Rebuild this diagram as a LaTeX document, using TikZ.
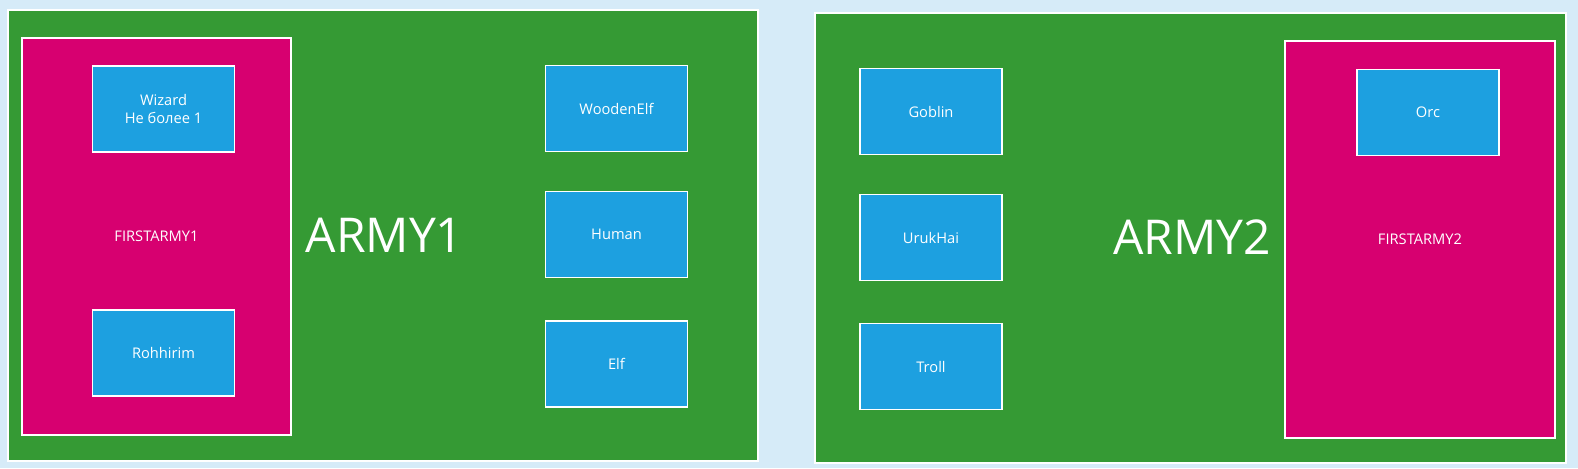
\documentclass[tikz,border=0pt]{standalone}
\usepackage{fontspec}
\setmainfont{Open Sans}
\definecolor{bgblue}{RGB}{214,235,248}
\definecolor{armygreen}{RGB}{53,154,52}
\definecolor{firstmag}{RGB}{215,0,112}
\definecolor{unitblue}{RGB}{29,160,224}
\tikzset{
  armybox/.style={draw=white, line width=1pt, fill=armygreen, rectangle, inner sep=0pt},
  firstbox/.style={draw=white, line width=1pt, fill=firstmag, rectangle, inner sep=0pt, text=white, font=\fontsize{11}{13}\selectfont},
  unitbox/.style={draw=white, line width=1pt, fill=unitblue, rectangle, inner sep=0pt, text=white, align=center, font=\fontsize{11}{14}\selectfont},
  bigtitle/.style={text=white, inner sep=0pt, font=\fontsize{36}{40}\selectfont}
}
\begin{document}
\begin{tikzpicture}[x=0.75pt,y=-0.75pt]
\path[fill=bgblue, use as bounding box] (0,0) rectangle (1578,468);
% armies
\node[armybox, minimum width=750*0.75pt, minimum height=451*0.75pt] (army1) at (383,235.5) {};
\node[armybox, minimum width=751*0.75pt, minimum height=450*0.75pt] (army2) at (1190.5,238) {};
% first armies
\node[firstbox, minimum width=269*0.75pt, minimum height=397*0.75pt] (first1) at (156.5,236.5) {FIRSTARMY1};
\node[firstbox, minimum width=270*0.75pt, minimum height=397*0.75pt] (first2) at (1420,239.5) {FIRSTARMY2};
% titles
\node[bigtitle] (title1) at (384.5,235.5) {ARMY1};
\node[bigtitle] (title2) at (1192,237.5) {ARMY2};
% units
\tikzset{unitsize/.style={minimum width=142*0.75pt, minimum height=86*0.75pt}}
\node[unitbox, unitsize] (wizard) at (163.5,109) {Wizard\\Не более 1};
\node[unitbox, unitsize] (rohhirim) at (163.5,353) {Rohhirim};
\node[unitbox, unitsize] (orc) at (1428,112.5) {Orc};
\node[unitbox, unitsize] (woodenelf) at (616.5,108.5) {WoodenElf};
\node[unitbox, unitsize] (human) at (616.5,234.5) {Human};
\node[unitbox, unitsize] (elf) at (616.5,364) {Elf};
\node[unitbox, unitsize] (goblin) at (931,111.5) {Goblin};
\node[unitbox, unitsize] (urukhai) at (931,237.5) {UrukHai};
\node[unitbox, unitsize] (troll) at (931,366.5) {Troll};
\end{tikzpicture}
\end{document}
